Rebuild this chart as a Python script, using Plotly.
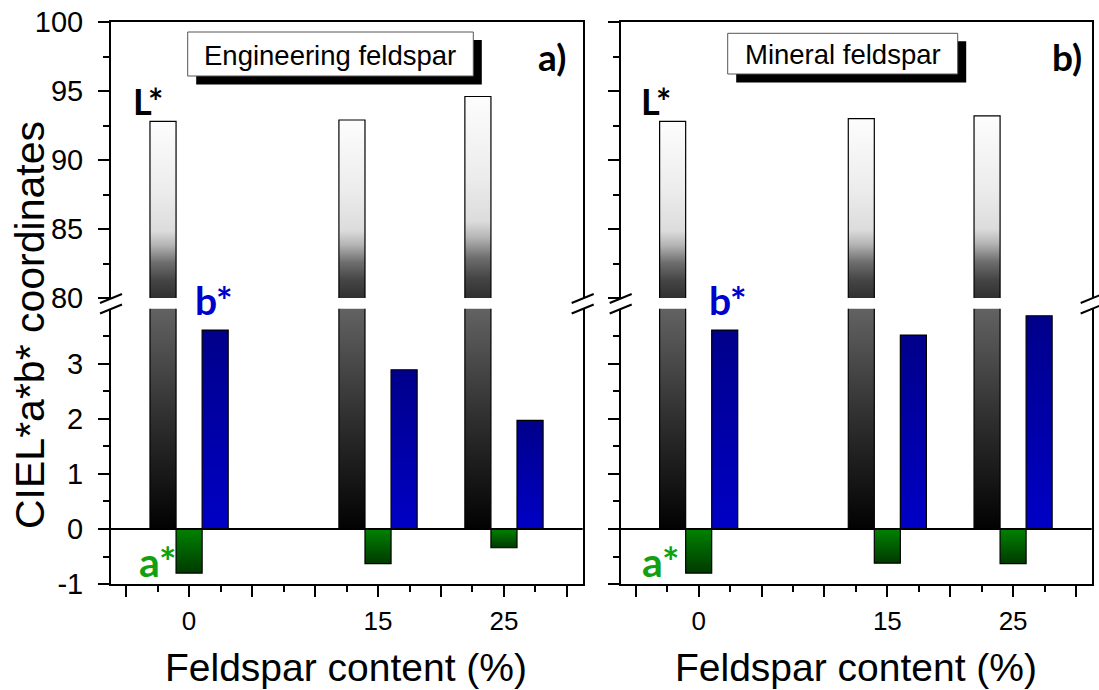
import plotly.graph_objects as go

W, H = 1099, 690

# ---------------- data ----------------
categories = [0, 15, 25]
L_eng = [92.8, 92.9, 94.6]
a_eng = [-0.80, -0.63, -0.34]
b_eng = [3.61, 2.89, 1.97]
L_min = [92.8, 93.0, 93.2]
a_min = [-0.80, -0.62, -0.63]
b_min = [3.61, 3.52, 3.87]

x_tickvals = [-5, 0, 5, 10, 15, 20, 25, 30]
x_ticktext = ['', '0', '', '', '15', '', '25', '']
y_top_tickvals = [80, 85, 90, 95, 100]
y_top_ticktext = ['80', '85', '90', '95', '100']
y_bot_tickvals = [-1, 0, 1, 2, 3]
y_bot_ticktext = ['-1', '0', '1', '2', '3']

panel_titles = ['Engineering feldspar', 'Mineral feldspar']
panel_letters = ['a)', 'b)']
x_title = 'Feldspar content (%)'
y_title = 'CIEL*a*b* coordinates'

# ---------------- layout constants ----------------
BAR_W = 2.07
X_RANGE = [-6.2, 31.25]
Y_TOP = [80, 100]
Y_BOT = [-1, 4]


def px(x):
    return x / W


def py(y):
    return 1 - y / H


L_TOP_SCALE = [[0, '#303030'], [0.1, '#454545'], [0.2, '#6e6e6e'],
               [0.3, '#b5b5b5'], [0.38, '#dcdcdc'], [0.6, '#ececec'],
               [1, '#fdfdfd']]
L_BOT_SCALE = [[0, '#020202'], [0.5, '#2f2f2f'], [1, '#626262']]
A_SCALE = [[0, '#003a00'], [1, '#008200']]
B_SCALE = [[0, '#0000c6'], [1, '#00008a']]


def bar_shape(xc, y0, y1, scale, xa, ya):
    x0, x1 = xc - BAR_W / 2, xc + BAR_W / 2
    return go.Scatter(
        x=[x0, x0, x1, x1], y=[y0, y1, y1, y0], mode='lines', fill='toself',
        fillgradient=dict(type='vertical', colorscale=scale),
        line=dict(color='black', width=1.2), xaxis=xa, yaxis=ya,
        hoverinfo='skip', showlegend=False)


fig = go.Figure()

panels = [
    dict(L=L_eng, a=a_eng, b=b_eng, xt='x', yt='y', xb='x2', yb='y2'),
    dict(L=L_min, a=a_min, b=b_min, xt='x3', yt='y3', xb='x4', yb='y4'),
]

for p in panels:
    for c, Lv, av, bv in zip(categories, p['L'], p['a'], p['b']):
        fig.add_trace(bar_shape(c - BAR_W, Y_TOP[0], Lv, L_TOP_SCALE, p['xt'], p['yt']))
        fig.add_trace(bar_shape(c - BAR_W, Y_BOT[1], 0, L_BOT_SCALE, p['xb'], p['yb']))
        fig.add_trace(bar_shape(c, 0, av, A_SCALE, p['xb'], p['yb']))
        fig.add_trace(bar_shape(c + BAR_W, 0, bv, B_SCALE, p['xb'], p['yb']))

# ---------------- axes ----------------
x_dom_left = [px(111), px(582.7)]
x_dom_right = [px(620.7), px(1091.7)]
y_dom_top = [py(298), py(22)]
y_dom_bot = [py(584.1), py(308.6)]

AX_LINE = dict(showline=True, linecolor='black', linewidth=2, showgrid=False,
               zeroline=False, automargin=False)
TICK_FONT_Y = dict(family='Liberation Sans', size=29, color='black')
TICK_FONT_X = dict(family='Liberation Sans', size=26, color='black')


def x_top(dom, anchor):
    return dict(domain=dom, range=X_RANGE, anchor=anchor, side='top',
                ticks='', showticklabels=False, **AX_LINE)


def x_bot(dom, anchor):
    return dict(domain=dom, range=X_RANGE, anchor=anchor, ticks='outside',
                ticklen=11, tickwidth=2, tickcolor='black',
                tickvals=x_tickvals, ticktext=x_ticktext, tickfont=TICK_FONT_X,
                ticklabelstandoff=2,
                minor=dict(ticks='outside', ticklen=6, tickwidth=2,
                           tickcolor='black', dtick=5, tick0=-2.5),
                **AX_LINE)


def y_top(dom, anchor, labels):
    return dict(domain=dom, range=Y_TOP, anchor=anchor, mirror=True,
                ticks='outside', ticklen=11, tickwidth=2, tickcolor='black',
                tickvals=y_top_tickvals, ticktext=y_top_ticktext,
                showticklabels=labels,
                tickfont=TICK_FONT_Y, ticklabelstandoff=9,
                minor=dict(ticks='outside', ticklen=6, tickwidth=2,
                           tickcolor='black', dtick=5, tick0=82.5),
                **AX_LINE)


def y_bot(dom, anchor, labels):
    return dict(domain=dom, range=Y_BOT, anchor=anchor, mirror=True,
                ticks='outside', ticklen=11, tickwidth=2, tickcolor='black',
                tickvals=y_bot_tickvals, ticktext=y_bot_ticktext,
                showticklabels=labels,
                tickfont=TICK_FONT_Y, ticklabelstandoff=9,
                minor=dict(ticks='outside', ticklen=6, tickwidth=2,
                           tickcolor='black', dtick=1, tick0=-0.5),
                **AX_LINE)


fig.update_layout(
    template='none',
    width=W, height=H,
    margin=dict(l=0, r=0, t=0, b=0, pad=0, autoexpand=False),
    paper_bgcolor='white', plot_bgcolor='white',
    showlegend=False,
    xaxis=x_top(x_dom_left, 'y'),
    yaxis=y_top(y_dom_top, 'x', True),
    xaxis2=x_bot(x_dom_left, 'y2'),
    yaxis2=y_bot(y_dom_bot, 'x2', True),
    xaxis3=x_top(x_dom_right, 'y3'),
    yaxis3=y_top(y_dom_top, 'x3', False),
    xaxis4=x_bot(x_dom_right, 'y4'),
    yaxis4=y_bot(y_dom_bot, 'x4', False),
)

shapes = []
for xa, ya in [('x2', 'y2'), ('x4', 'y4')]:
    shapes.append(dict(type='line', xref=f'{xa} domain', yref=ya, x0=0, x1=1,
                       y0=0, y1=0, line=dict(color='black', width=2.2),
                       layer='above'))

for xv in [111, 582.7, 620.7, 1091.7]:
    shapes.append(dict(type='rect', xref='paper', yref='paper',
                       x0=px(xv - 2), x1=px(xv + 2), y0=py(306), y1=py(301),
                       line=dict(width=0), fillcolor='white'))
    for yv in [298.5, 309]:
        shapes.append(dict(type='line', xref='paper', yref='paper',
                           x0=px(xv - 11), y0=py(yv + 4.5),
                           x1=px(xv + 11), y1=py(yv - 4.5),
                           line=dict(color='black', width=2)))

boxes = [(187.7, 32, 473.3, 76), (727.7, 33.3, 957.7, 74)]
for (x0, y0, x1, y1) in boxes:
    shapes.append(dict(type='rect', xref='paper', yref='paper',
                       x0=px(x0 + 8.5), x1=px(x1 + 8.5), y0=py(y1 + 8.5),
                       y1=py(y0 + 8), fillcolor='black', line=dict(width=0)))
    shapes.append(dict(type='rect', xref='paper', yref='paper',
                       x0=px(x0), x1=px(x1), y0=py(y1), y1=py(y0),
                       fillcolor='white', line=dict(color='#555555', width=1)))
fig.update_layout(shapes=shapes)

anns = []


def add_text(text, x, y, size, color='black', family='Liberation Sans',
             angle=0):
    anns.append(dict(text=text, x=px(x), y=py(y), xref='paper', yref='paper',
                     xanchor='center', yanchor='middle', showarrow=False,
                     textangle=angle,
                     font=dict(family=family, size=size, color=color)))


BOLD = 'Lato'
for (x0, y0, x1, y1), t in zip(boxes, panel_titles):
    add_text(t, (x0 + x1) / 2, (y0 + y1) / 2 + 1, 27.5)
add_text('<b>' + panel_letters[0] + '</b>', 552, 57, 37, family=BOLD)
add_text('<b>' + panel_letters[1] + '</b>', 1067, 57, 37, family=BOLD)
add_text('<b>L*</b>', 148, 101, 36, family=BOLD)
add_text('<b>L*</b>', 656, 101, 36, family=BOLD)
add_text('<b>b*</b>', 214, 300, 39, color='#0000cc', family=BOLD)
add_text('<b>b*</b>', 728, 300, 39, color='#0000cc', family=BOLD)
add_text('<b>a*</b>', 157, 561, 41, color='#10a010', family=BOLD)
add_text('<b>a*</b>', 660, 561, 41, color='#10a010', family=BOLD)
add_text(x_title, 346, 667, 39)
add_text(x_title, 855.5, 667, 39)
add_text(y_title, 30, 325, 41, angle=-90)
fig.update_layout(annotations=anns)

fig.write_html('out.html')
